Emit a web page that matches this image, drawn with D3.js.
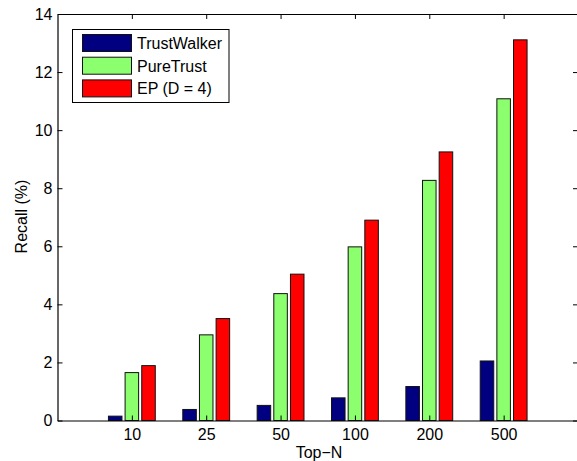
<!DOCTYPE html>
<html><head><meta charset="utf-8">
<script src="https://cdn.jsdelivr.net/npm/d3@7"></script>
<style>
html,body{margin:0;padding:0;background:#fff;}
svg{display:block;font-family:"Liberation Sans",Arial,Helvetica,sans-serif;}
</style></head>
<body>
<svg id="c" width="577" height="461"></svg>
<script>
const categories = ["10","25","50","100","200","500"];
const seriesNames = ["TrustWalker","PureTrust","EP (D = 4)"];
const trustWalker = [0.15,0.38,0.52,0.78,1.17,2.05];
const pureTrust   = [1.65,2.95,4.37,5.98,8.27,11.08];
const ep          = [1.89,3.51,5.04,6.90,9.25,13.11];
const yTicks = [0,2,4,6,8,10,12,14];
const colors = ["#000080","#8cff6e","#ff0000"];
const series = [trustWalker, pureTrust, ep];

const svg = d3.select("#c");
const L = 57.5, R = 578, T = 14, B = 420.5;
const x = d3.scaleLinear().domain([0,7]).range([L,R]);
const y = d3.scaleLinear().domain([0,14]).range([B,T]);
const offsets = [-0.224, 0, 0.224];
const bw = 0.182;

const g = svg.append("g");
series.forEach((vals,si)=>{
  g.selectAll(null).data(vals).enter().append("rect")
    .attr("x",(d,i)=>x(i+1+offsets[si]-bw/2))
    .attr("width",x(bw)-x(0))
    .attr("y",d=>y(d))
    .attr("height",d=>y(0)-y(d))
    .attr("fill",colors[si])
    .attr("stroke","#111").attr("stroke-width",1);
});

const idx = d3.range(1,categories.length+1);
const ax = svg.append("g").attr("transform",`translate(0,${B})`)
  .call(d3.axisBottom(x).tickValues(idx).tickFormat(i=>categories[i-1]).tickSizeInner(-5).tickSizeOuter(0).tickPadding(8));
const axt = svg.append("g").attr("transform",`translate(0,${T})`)
  .call(d3.axisTop(x).tickValues(idx).tickFormat("").tickSizeInner(-5).tickSizeOuter(0));
const ay = svg.append("g").attr("transform",`translate(${L},0)`)
  .call(d3.axisLeft(y).tickValues(yTicks).tickFormat(d3.format("d")).tickSizeInner(-5).tickSizeOuter(0).tickPadding(5));
const ayr = svg.append("g").attr("transform",`translate(${R},0)`)
  .call(d3.axisRight(y).tickValues(yTicks).tickFormat("").tickSizeInner(-5).tickSizeOuter(0));
[ax,axt,ay,ayr].forEach(a=>{
  a.select(".domain").attr("stroke","#000").attr("stroke-width",1.2);
  a.selectAll(".tick line").attr("stroke","#000").attr("stroke-width",1);
  a.selectAll("text").attr("font-size",16).attr("fill","#000").attr("font-family",null);
});

svg.append("text").attr("x",319).attr("y",458).attr("text-anchor","middle")
  .attr("font-size",16).text("Top\u2212N");
svg.append("text").attr("transform",`translate(27,216.5) rotate(-90)`).attr("text-anchor","middle")
  .attr("font-size",16).text("Recall (%)");

const lg = svg.append("g");
lg.append("rect").attr("x",72.5).attr("y",29.5).attr("width",156.5).attr("height",73)
  .attr("fill","#fff").attr("stroke","#000").attr("stroke-width",1);
seriesNames.forEach((n,i)=>{
  const yy = 34.5 + i*22.7;
  lg.append("rect").attr("x",82.5).attr("y",yy).attr("width",49).attr("height",17)
    .attr("fill",colors[i]).attr("stroke","#111").attr("stroke-width",1);
  lg.append("text").attr("x",137).attr("y",yy+14.5).attr("font-size",16).text(n);
});
</script>
</body></html>
